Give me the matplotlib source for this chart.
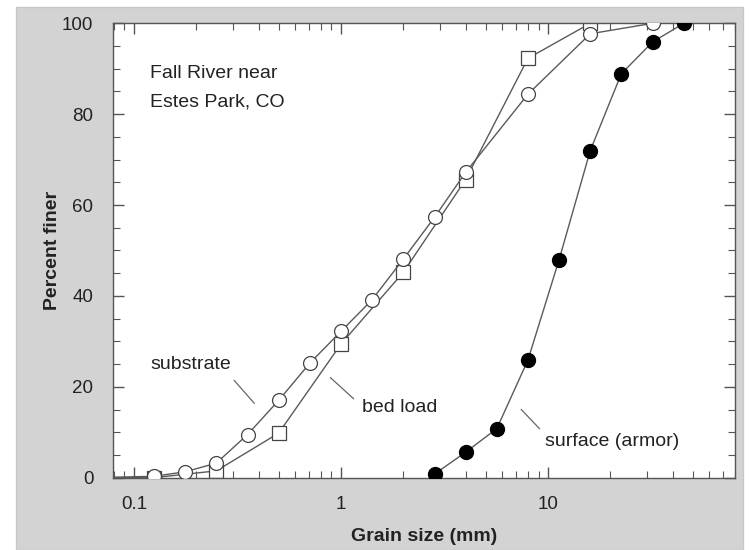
import matplotlib.pyplot as plt
import matplotlib.patches as mpatches
from matplotlib.ticker import LogLocator, MultipleLocator, NullFormatter, FixedLocator, FixedFormatter

plt.rcParams['font.family'] = ['Liberation Sans', 'DejaVu Sans']

# Grain size classes (mm) and percent finer values
substrate_size = [0.0625, 0.125, 0.177, 0.25, 0.354, 0.5, 0.707, 1.0, 1.41, 2.0, 2.83, 4.0, 8.0, 16.0, 32.0]
substrate_pct = [0, 0.3, 1.3, 3.2, 9.5, 17.0, 25.2, 32.2, 39.1, 48.1, 57.3, 67.2, 84.4, 97.7, 100]

bedload_size = [0.0625, 0.125, 0.25, 0.5, 1.0, 2.0, 4.0, 8.0, 16.0]
bedload_pct = [0, 0, 1.5, 9.8, 29.4, 45.2, 65.6, 92.3, 100]

surface_size = [2.83, 4.0, 5.66, 8.0, 11.3, 16.0, 22.6, 32.0, 45.3]
surface_pct = [0.8, 5.6, 10.8, 25.9, 47.9, 72.0, 88.9, 95.9, 100]

x_ticks = [0.1, 1, 10]
x_tick_labels = ['0.1', '1', '10']
y_ticks = [0, 20, 40, 60, 80, 100]

fig = plt.figure(figsize=(7.49, 5.5), dpi=100)
fig.patch.set_facecolor('white')
# gray frame behind the plot
fig.patches.append(mpatches.Rectangle((0.021, 0), 0.971, 0.988, transform=fig.transFigure,
                                      facecolor='#d3d3d3', edgecolor='#c8c8c8', zorder=-10))

ax = fig.add_axes([0.1505, 0.1315, 0.8308, 0.8261])
ax.set_facecolor('white')

line_col = '#5a5a5a'
ax.plot(substrate_size, substrate_pct, color=line_col, lw=1.0, marker='o', ms=10,
        mfc='white', mec='#444444', mew=0.9, zorder=3)
ax.plot(bedload_size, bedload_pct, color=line_col, lw=1.0, marker='s', ms=9.5,
        mfc='white', mec='#444444', mew=0.9, zorder=2)
ax.plot(surface_size, surface_pct, color=line_col, lw=1.0, marker='o', ms=10,
        mfc='black', mec='black', zorder=3)

ax.set_xscale('log')
ax.set_xlim(0.079, 80)
ax.set_ylim(0, 100)

ax.xaxis.set_major_locator(FixedLocator(x_ticks))
ax.xaxis.set_major_formatter(FixedFormatter(x_tick_labels))
ax.xaxis.set_minor_locator(LogLocator(base=10, subs=range(2, 10)))
ax.xaxis.set_minor_formatter(NullFormatter())
ax.yaxis.set_major_locator(FixedLocator(y_ticks))
ax.yaxis.set_minor_locator(MultipleLocator(5))

ax.tick_params(which='both', direction='in', top=True, right=True, colors='#555555',
               labelcolor='#222222', labelsize=13.5)
ax.tick_params(which='major', length=8, width=1)
ax.tick_params(which='minor', length=5, width=0.8)
ax.tick_params(axis='x', which='major', pad=13)
ax.tick_params(axis='y', which='major', pad=14)

for sp in ax.spines.values():
    sp.set_color('#555555')
    sp.set_linewidth(1.0)

ax.set_xlabel('Grain size (mm)', fontsize=14, fontweight='bold', color='#222222', labelpad=11)
ax.set_ylabel('Percent finer', fontsize=14, fontweight='bold', color='#222222', labelpad=1)

txt_col = '#222222'
ax.text(0.12, 89, 'Fall River near', fontsize=14, color=txt_col, va='center', ha='left')
ax.text(0.12, 82.6, 'Estes Park, CO', fontsize=14, color=txt_col, va='center', ha='left')

ax.text(0.12, 24.8, 'substrate', fontsize=14, color=txt_col, va='center', ha='left')
ax.plot([0.305, 0.381], [21.4, 16.4], color='#666666', lw=0.9)

ax.text(1.27, 15.5, 'bed load', fontsize=14, color=txt_col, va='center', ha='left')
ax.plot([0.89, 1.15], [22.0, 17.4], color='#666666', lw=0.9)

ax.text(9.7, 8.0, 'surface (armor)', fontsize=14, color=txt_col, va='center', ha='left')
ax.plot([7.43, 9.09], [15.0, 10.8], color='#666666', lw=0.9)

fig.savefig('out.png', dpi=100)
